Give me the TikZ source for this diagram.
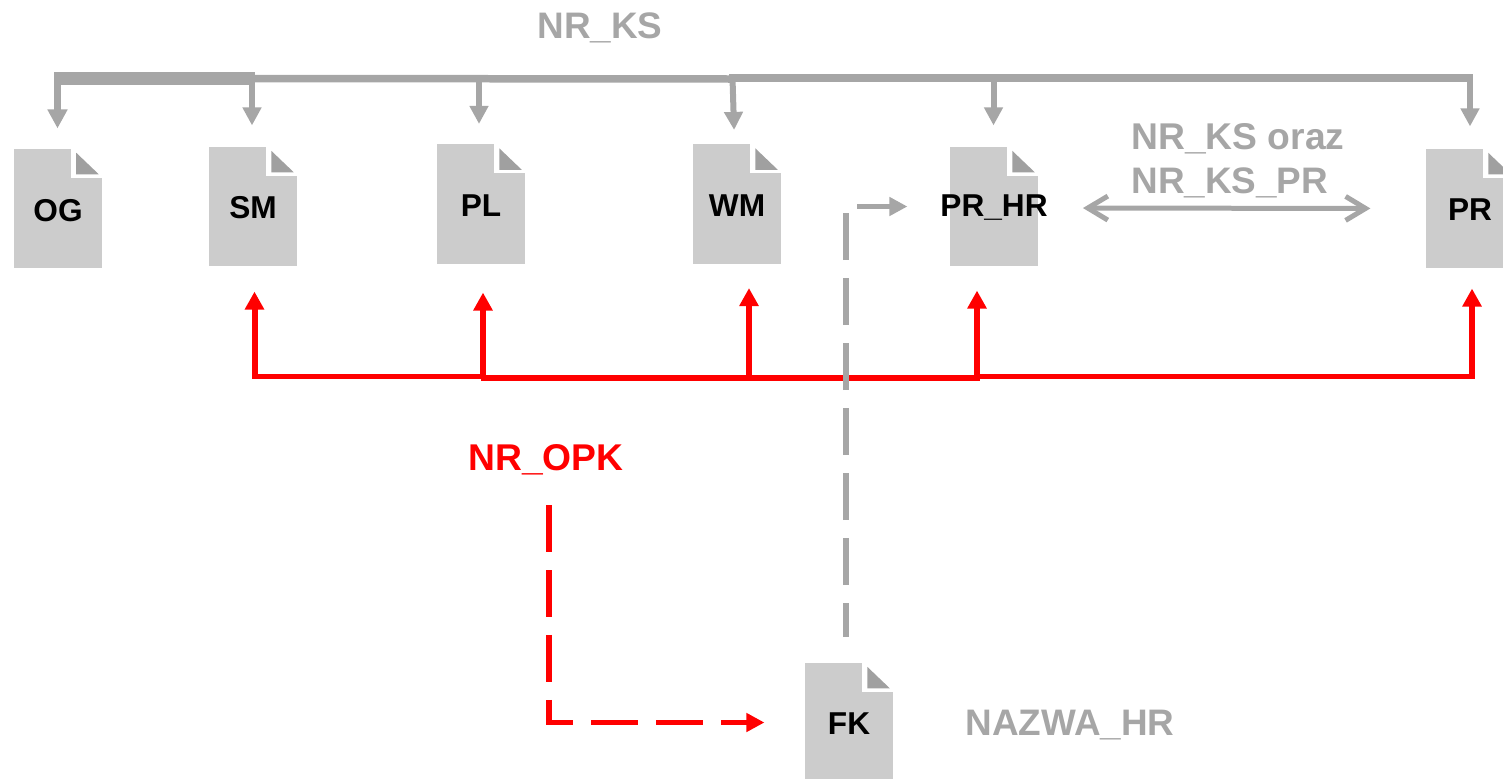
\documentclass[tikz,border=0pt]{standalone}
\usepackage{fontspec}
\setmainfont{Liberation Sans}
\usetikzlibrary{arrows.meta}
\definecolor{docgray}{HTML}{CCCCCC}
\definecolor{linegray}{HTML}{A6A6A6}
\definecolor{foldgray}{HTML}{A0A0A0}
\tikzset{
    docfile/.style = {rectangle, fill=docgray, minimum width=17.7mm, minimum height=23.9mm, inner sep=0pt,
        path picture={
            \fill[white] ([xshift=-6.2mm]path picture bounding box.north east) rectangle ([yshift=-5.8mm]path picture bounding box.north east);
            \fill[foldgray] ([xshift=-5.2mm,yshift=-0.8mm]path picture bounding box.north east) -- ([xshift=-5.2mm,yshift=-5.1mm]path picture bounding box.north east) -- ([xshift=-0.7mm,yshift=-5.1mm]path picture bounding box.north east) -- cycle;
        }},
    doctext/.style = {font=\bfseries\fontsize{18}{18}\selectfont, text=black, inner sep=0pt},
    graytext/.style = {font=\bfseries\fontsize{21}{21}\selectfont, text=linegray, inner sep=0pt},
    kstip/.style = {-{Triangle[length=3.6mm,width=3.6mm]}, draw=linegray, line width=1.2mm},
    opktip/.style = {-{Triangle[length=3.6mm,width=3.7mm]}, draw=red, line width=1.2mm},
    dashes/.style = {line width=1.15mm, dash pattern=on 9.4mm off 3.6mm}
}
\begin{document}
\begin{tikzpicture}[x=0.02cm,y=-0.02cm]
        \useasboundingbox (0,0) rectangle (1503,778);

        \node[docfile] (OG) at (58,208.5) {};
        \node[docfile] (SM) at (253,206.5) {};
        \node[docfile] (PL) at (481,204) {};
        \node[docfile] (WM) at (737,204) {};
        \node[docfile] (PRHR) at (994,206.5) {};
        \node[docfile] (PR) at (1470,208.5) {};
        \node[docfile] (FK) at (849,722.5) {};

        \node[doctext] (OGtext) at (58,211) {OG};
        \node[doctext] (SMtext) at (253,208) {SM};
        \node[doctext] (PLtext) at (481,206) {PL};
        \node[doctext] (WMtext) at (737,206) {WM};
        \node[doctext] (PRHRtext) at (994,208) {PR\_HR};
        \node[doctext] (PRtext) at (1470,210) {PR};
        \node[doctext] (FKtext) at (849,724) {FK};

        \node[graytext] (nrks) at (600,28) {NR\_KS};
        \node[graytext, anchor=west, font=\bfseries\fontsize{21.2}{21.2}\selectfont] (nrksoraz) at (1131,139) {NR\_KS oraz};
        \node[graytext, anchor=west] (nrkspr) at (1131,183) {NR\_KS\_PR};
        \node[graytext] (nazwa) at (1070,725) {NAZWA\_HR};
        \node[graytext, text=red, font=\bfseries\fontsize{21.2}{21.2}\selectfont] (nropk) at (546,460) {NR\_OPK};

        % NR_KS bus
        \coordinate (ksOG) at (57.5,78.5);
        \coordinate (ksSM) at (252,78.5);
        \coordinate (ksEnd) at (255,78.5);
        \coordinate (ksPL) at (479,79);
        \coordinate (ksMid) at (732,79);
        \coordinate (ksWM) at (732.5,78);
        \coordinate (ksHR) at (993.5,78);
        \coordinate (ksPR) at (1470,78);
        \coordinate (ksRight) at (1473,78);

        \draw[linegray, line width=2.6mm] ([xshift=-0.7mm]ksOG) -- (ksEnd);
        \draw[linegray, line width=1.5mm] (ksEnd) -- (ksMid);
        \draw[linegray, line width=1.6mm] ([xshift=-0.7mm]ksWM) -- (ksRight);

        \draw[kstip, line width=1.4mm, -{Triangle[length=3.8mm,width=3.8mm]}, shorten >=4mm] (ksOG) -- (ksOG |- OG.north);
        \draw[kstip, shorten >=4.2mm] (ksSM) -- (ksSM |- SM.north);
        \draw[kstip, shorten >=4mm] (ksPL) -- (ksPL |- PL.north);
        \draw[kstip, shorten >=2.8mm] (ksWM) -- ([xshift=-0.5mm]WM.north);
        \draw[kstip, shorten >=4.2mm] (ksHR) -- (ksHR |- PRHR.north);
        \draw[kstip, shorten >=4.4mm] (ksPR) -- (ksPR |- PR.north);

        % NR_OPK bus
        \coordinate (opkSM) at (254.5,376.5);
        \coordinate (opkPL) at (483,378);
        \coordinate (opkWM) at (749,378);
        \coordinate (opkHR) at (977,378);
        \coordinate (opkPR) at (1472,376.5);

        \draw[red, line width=1mm, line cap=rect] (opkSM) -- (opkSM -| opkPL);
        \draw[red, line width=1.3mm] ([xshift=-0.5mm]opkPL) -- ([xshift=0.6mm]opkHR);
        \draw[red, line width=1mm, line cap=rect] (opkHR |- opkPR) -- (opkPR);

        \draw[opktip, shorten >=5mm] (opkSM) -- (opkSM |- SM.south);
        \draw[opktip, shorten >=5.7mm] (opkPL) -- (opkPL |- PL.south);
        \draw[opktip, shorten >=4.8mm] (opkWM) -- (opkWM |- WM.south);
        \draw[opktip, shorten >=4.8mm] (opkHR) -- (opkHR |- PRHR.south);
        \draw[opktip, shorten >=4mm] (opkPR) -- (opkPR |- PR.south);

        % dashed links to and from FK
        \coordinate (opkStart) at (549,505);
        \coordinate (fkStart) at (846,637);

        \draw[dashes, red, -{Triangle[length=3.6mm,width=3.6mm]}, shorten >=8mm] (opkStart) |- (FK.west);
        \draw[dashes, linegray, dash phase=2.6mm, -{Triangle[length=3.6mm,width=3.6mm]}, shorten >=8.4mm] (fkStart) |- (PRHR.west);

        % NR_KS and NR_KS_PR
        \draw[linegray, line width=1mm, line cap=round, {Straight Barb[length=4mm,width=4.8mm]}-{Straight Barb[length=4mm,width=4.8mm]}, shorten <=7mm, shorten >=11mm] (PRHRtext.east) -- (PR.west);
\end{tikzpicture}
\end{document}
